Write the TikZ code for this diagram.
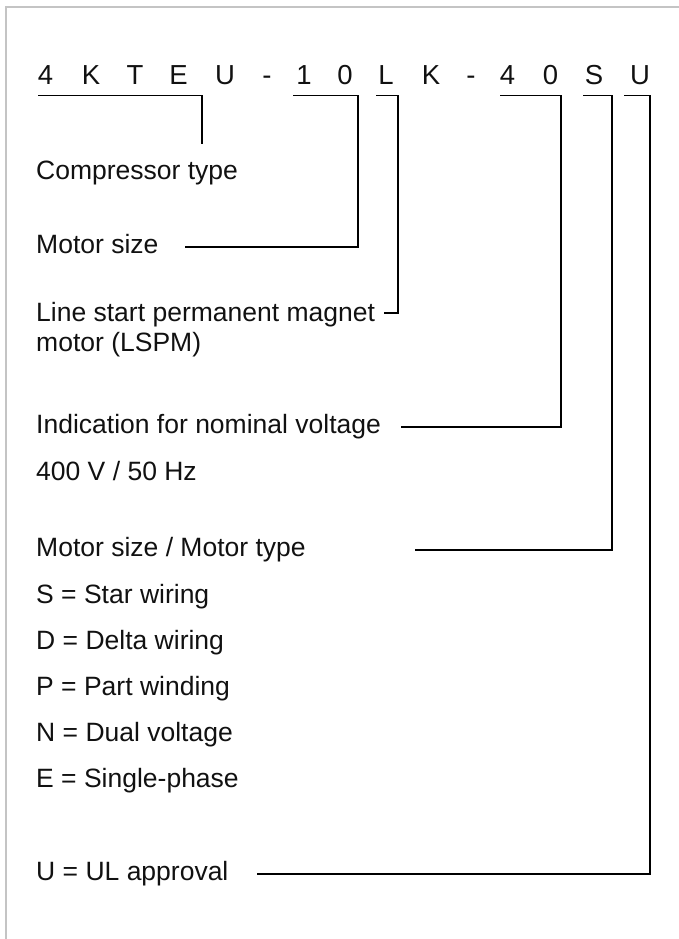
\documentclass[tikz,border=0pt]{standalone}
\usepackage{fontspec}
\setmainfont{Liberation Sans}
\definecolor{bordergray}{HTML}{C4C4C4}
\definecolor{inkblack}{HTML}{111111}
\tikzset{
  codechar/.style={anchor=base, inner sep=0pt, text=inkblack, font=\fontsize{27.5}{30}\selectfont},
  lbl/.style={anchor=base west, inner sep=0pt, text=inkblack, font=\fontsize{26.5}{30}\selectfont},
  leader/.style={draw=black, line width=1.8pt, line join=miter},
  frame/.style={draw=bordergray, line width=2pt}
}
\begin{document}
\begin{tikzpicture}[x=1pt, y=-1pt]
\useasboundingbox (0,0) rectangle (679,939);
% frame (top and left edges only)
\coordinate (fbl) at (5.5,939);
\coordinate (ftl) at (5.5,7);
\coordinate (ftr) at (679,7);
\draw[frame] (fbl) -- (ftl) -- (ftr);

% code characters
\node[codechar] (c1)  at (45.5,85) {4};
\node[codechar] (c2)  at (91,85) {K};
\node[codechar] (c3)  at (135,85) {T};
\node[codechar] (c4)  at (178.5,85) {E};
\node[codechar] (c5)  at (225,85) {U};
\node[codechar] (c6)  at (267,85) {-};
\node[codechar] (c7)  at (304,85) {1};
\node[codechar] (c8)  at (345,85) {0};
\node[codechar] (c9)  at (386,85) {L};
\node[codechar] (c10) at (431,85) {K};
\node[codechar] (c11) at (471,85) {-};
\node[codechar] (c12) at (507.5,85) {4};
\node[codechar] (c13) at (550.5,85) {0};
\node[codechar] (c14) at (594,85) {S};
\node[codechar] (c15) at (640,85) {U};

% labels
\node[lbl] (comp) at (36,179) {Compressor type};
\node[lbl] (msize) at (36,253) {Motor size};
\node[lbl] (lsp1) at (36,321) {Line start permanent magnet};
\node[lbl] (lsp2) at (36,351) {motor (LSPM)};
\node[lbl] (nomv) at (36,433) {Indication for nominal voltage};
\node[lbl] (volt) at (36,480) {400 V / 50 Hz};
\node[lbl] (mtype) at (36,556) {Motor size / Motor type};
\node[lbl] (sw) at (36,603) {S = Star wiring};
\node[lbl] (dw) at (36,649) {D = Delta wiring};
\node[lbl] (pw) at (36,695) {P = Part winding};
\node[lbl] (nw) at (36,741) {N = Dual voltage};
\node[lbl] (ew) at (36,787) {E = Single-phase};
\node[lbl] (ul) at (36,880) {U = UL approval};

% leader coordinates
\coordinate (a1) at (38,95.5);
\coordinate (a2) at (202,95.5);
\coordinate (a3) at (202,144);

\coordinate (b1) at (293,95.5);
\coordinate (b2) at (358,95.5);
\coordinate (b3) at (358,247);
\coordinate (b4) at (185,247);

\coordinate (l1) at (376,95.5);
\coordinate (l2) at (398,95.5);
\coordinate (l3) at (398,313);
\coordinate (l4) at (384,313);

\coordinate (v1) at (500,95.5);
\coordinate (v2) at (561,95.5);
\coordinate (v3) at (561,427);
\coordinate (v4) at (401,427);

\coordinate (s1) at (583,95.5);
\coordinate (s2) at (612,95.5);
\coordinate (s3) at (612,550);
\coordinate (s4) at (415,550);

\coordinate (u1) at (624,95.5);
\coordinate (u2) at (650,95.5);
\coordinate (u3) at (650,874);
\coordinate (u4) at (257,874);

\draw[leader] (a1) -- (a2) -- (a3);
\draw[leader] (b1) -- (b2) -- (b3) -- (b4);
\draw[leader] (l1) -- (l2) -- (l3) -- (l4);
\draw[leader] (v1) -- (v2) -- (v3) -- (v4);
\draw[leader] (s1) -- (s2) -- (s3) -- (s4);
\draw[leader] (u1) -- (u2) -- (u3) -- (u4);
\end{tikzpicture}
\end{document}
